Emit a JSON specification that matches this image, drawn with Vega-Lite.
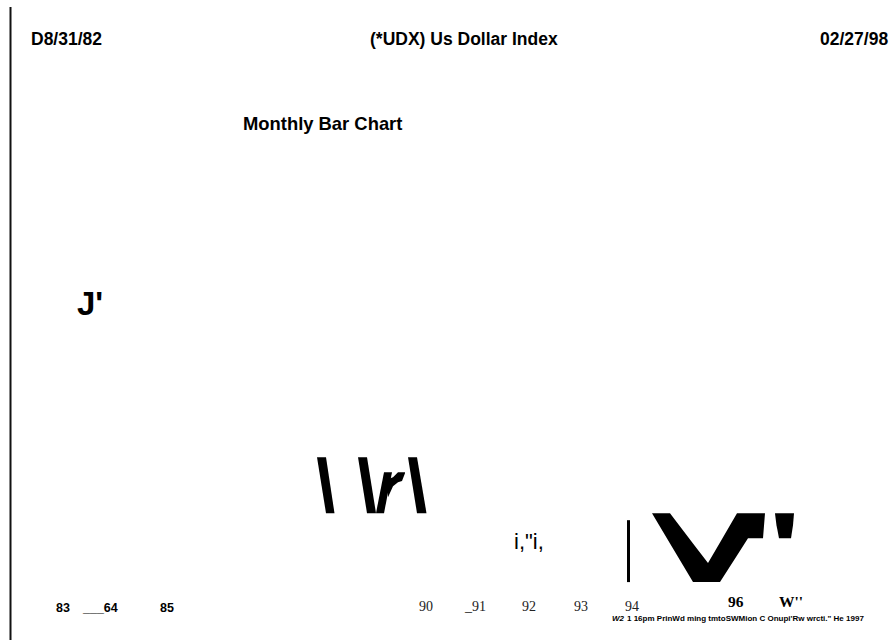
{
"$schema":"https://vega.github.io/schema/vega-lite/v6.json",
"width":896,"height":641,"padding":0,
"autosize":{"type":"fit","contains":"padding"},
"background":"white",
"view":{"stroke":null},
"encoding":{
"x":{"field":"x","type":"quantitative","scale":{"domain":[0,896],"nice":false,"zero":false},"axis":null},
"y":{"field":"y","type":"quantitative","scale":{"domain":[641,0],"nice":false,"zero":false},"axis":null}
},
"layer":[
{"data":{"values":[{"x":10.5,"y":7,"y2":641}]},"mark":{"type":"rule","strokeWidth":2,"color":"#111"},"encoding":{"y2":{"field":"y2"}}},
{"data":{"values":[{"x":628.5,"y":521,"y2":583}]},"mark":{"type":"rule","strokeWidth":3,"color":"#000"},"encoding":{"y2":{"field":"y2"}}},
{"data":{"values":[
{"s":"a","x":317,"y":458,"y2":458},{"s":"a","x":326,"y":458,"y2":514},{"s":"a","x":334.5,"y":514,"y2":514},
{"s":"b","x":358,"y":458,"y2":458},{"s":"b","x":367,"y":458,"y2":514},{"s":"b","x":376,"y":514,"y2":514},
{"s":"c","x":376,"y":514,"y2":514},{"s":"c","x":384,"y":473,"y2":514},{"s":"c","x":392,"y":473,"y2":473},
{"s":"d","x":388,"y":480,"y2":498},{"s":"d","x":393,"y":478,"y2":487},{"s":"d","x":398,"y":473,"y2":483},{"s":"d","x":402,"y":473,"y2":481.7},{"s":"d","x":405,"y":473,"y2":474},
{"s":"e","x":408,"y":458,"y2":458},{"s":"e","x":417,"y":458,"y2":514},{"s":"e","x":426.5,"y":514,"y2":514},
{"s":"v","x":652,"y":514,"y2":514},{"s":"v","x":670,"y":514,"y2":544.3},{"s":"v","x":693,"y":544.3,"y2":583},{"s":"v","x":708,"y":564,"y2":583},{"s":"v","x":720,"y":543.3,"y2":583},{"s":"v","x":737,"y":514,"y2":556.3},{"s":"v","x":748,"y":514,"y2":539},{"s":"v","x":763,"y":514,"y2":539},{"s":"v","x":765,"y":514,"y2":514},
{"s":"q","x":775,"y":514,"y2":514},{"s":"q","x":776.5,"y":514,"y2":526},{"s":"q","x":779,"y":514,"y2":539},{"s":"q","x":791,"y":514,"y2":539},{"s":"q","x":793,"y":514,"y2":526},{"s":"q","x":794,"y":514,"y2":514}
]},"mark":{"type":"area","color":"#000","orient":"vertical"},"encoding":{"y2":{"field":"y2"},"detail":{"field":"s"}}},
{"data":{"values":[{"x":31,"y":45,"t":"D8/31/82"},{"x":370,"y":45,"t":"(*UDX) Us Dollar Index"},{"x":820,"y":45,"t":"02/27/98"}]},
 "mark":{"type":"text","align":"left","baseline":"alphabetic","font":"Liberation Sans","fontWeight":"bold","fontSize":17.5,"color":"#000"},"encoding":{"text":{"field":"t"}}},
{"data":{"values":[{"x":243,"y":130,"t":"Monthly Bar Chart"}]},
 "mark":{"type":"text","align":"left","baseline":"alphabetic","font":"Liberation Sans","fontWeight":"bold","fontSize":18.4,"color":"#000"},"encoding":{"text":{"field":"t"}}},
{"data":{"values":[{"x":77,"y":315,"t":"J'"}]},"mark":{"type":"text","align":"left","baseline":"alphabetic","font":"Liberation Sans","fontWeight":"bold","fontSize":33,"color":"#000"},"encoding":{"text":{"field":"t"}}},
{"data":{"values":[{"x":514,"y":550,"t":"i,\"i,"}]},"mark":{"type":"text","align":"left","baseline":"alphabetic","font":"Liberation Sans","fontSize":22,"color":"#000"},"encoding":{"text":{"field":"t"}}},
{"data":{"values":[{"x":56,"y":613,"t":"83"},{"x":83,"y":613,"t":"___64"},{"x":160,"y":613,"t":"85"}]},"mark":{"type":"text","align":"left","baseline":"alphabetic","font":"Liberation Sans","fontWeight":"bold","fontSize":12.5,"color":"#000"},"encoding":{"text":{"field":"t"}}},
{"data":{"values":[{"x":419,"y":612,"t":"90"},{"x":465,"y":612,"t":"_91"},{"x":522,"y":612,"t":"92"},{"x":574,"y":612,"t":"93"},{"x":625,"y":612,"t":"94"}]},"mark":{"type":"text","align":"left","baseline":"alphabetic","font":"Liberation Serif","fontSize":14,"color":"#222"},"encoding":{"text":{"field":"t"}}},
{"data":{"values":[{"x":728,"y":608,"t":"96"},{"x":779,"y":608,"t":"W''"}]},"mark":{"type":"text","align":"left","baseline":"alphabetic","font":"Liberation Serif","fontWeight":"bold","fontSize":15.5,"color":"#000"},"encoding":{"text":{"field":"t"}}},
{"data":{"values":[{"x":612,"y":622,"t":"W2"}]},"mark":{"type":"text","align":"left","baseline":"alphabetic","font":"Liberation Sans","fontWeight":"bold","fontStyle":"italic","fontSize":8,"color":"#000"},"encoding":{"text":{"field":"t"}}},
{"data":{"values":[{"x":627,"y":622,"t":"1 16pm PrinWd ming tmtoSWMion C Onupi'Rw wrcti.\" He 1997"}]},"mark":{"type":"text","align":"left","baseline":"alphabetic","font":"Liberation Sans","fontWeight":"bold","fontSize":8,"color":"#000"},"encoding":{"text":{"field":"t"}}}
]
}
